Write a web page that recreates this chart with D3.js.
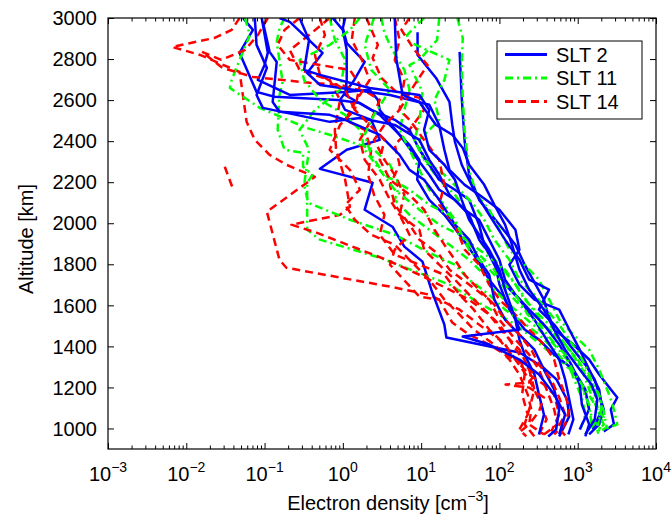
<!DOCTYPE html>
<html>
<head>
<meta charset="utf-8">
<script src="https://cdn.jsdelivr.net/npm/d3@7"></script>
<style>
  body { margin: 0; background: #fff; }
  text { font-family: "Liberation Sans", Arial, Helvetica, sans-serif; fill: #000; }
</style>
</head>
<body>
<svg id="chart" width="672" height="515"></svg>
<script>
// Electron density profiles, each point is [density (cm^-3), altitude (km)]
const slt2Profiles = [
  [[31,2835],[33,2611],[36,2397],[41,2236],[55,2114],[100,1993],[160,1895],[210,1798],[370,1628],[400,1579],[500,1482],[880,1409],[1400,1336],[1880,1263],[2650,1190],[3200,1151],[2650,1093],[2900,1020],[2150,985]],
  [[9,2930],[9,2820],[15.5,2708],[23,2591],[25,2479],[27,2397],[33,2285],[47,2163],[74,2041],[118,1920],[180,1822],[240,1725],[430,1676],[370,1628],[320,1579],[500,1506],[780,1409],[1250,1311],[1650,1238],[1880,1165],[2150,1093],[1880,1020],[1400,971]],
  [[1.2,3050],[1.07,3000],[1.0,2951],[1.12,2878],[1.9,2786],[1.4,2698],[0.92,2601],[1.07,2552],[2.3,2504],[2.96,2406],[1.12,2358],[0.51,2265],[2.4,2197],[1.9,2066],[4.3,1983],[6.1,1886],[10.4,1813],[13.5,1676],[19.8,1506],[21,1443],[180,1370],[350,1302],[535,1239],[730,1141],[780,1059],[580,961]],
  [[0.053,3000],[0.071,2942],[0.048,2830],[0.079,2640],[0.134,2616],[0.86,2601],[1.65,2586],[2.96,2528],[4.6,2455],[7.1,2382],[9.5,2309],[8.9,2212],[12.7,2114],[19.8,2041],[31,1944],[47,1847],[74,1725],[118,1628],[160,1530],[180,1433],[210,1360],[280,1263],[320,1165],[370,1068],[320,971]],
  [[0.092,3000],[0.11,2830],[0.1,2771],[0.082,2698],[0.21,2625],[1.07,2640],[2.2,2650],[2.8,2601],[2.96,2552],[5.3,2431],[8.2,2333],[12.7,2236],[17,2163],[27,2114],[41,2041],[55,1920],[86,1822],[100,1701],[134,1579],[210,1482],[320,1433],[500,1360],[880,1287],[1250,1190],[1400,1093],[1060,995]],
  [[0.155,3000],[0.21,2981],[0.55,2830],[0.35,2732],[0.51,2674],[4.0,2625],[7.1,2601],[12.7,2577],[17,2479],[19.8,2358],[23,2260],[36,2187],[55,2139],[100,2066],[160,1968],[180,1871],[134,1798],[180,1701],[280,1628],[580,1579],[780,1482],[1060,1384],[1400,1287],[1880,1190],[2050,1093],[1560,995]],
  [[0.74,3000],[1.0,2942],[1.12,2844],[1.12,2698],[1.07,2625],[2.3,2552],[4.6,2504],[7.1,2455],[9.5,2358],[12.7,2285],[17,2212],[27,2163],[41,2114],[55,1993],[64,1895],[86,1798],[118,1701],[180,1628],[280,1530],[400,1433],[580,1336],[690,1239],[780,1141],[880,1044],[760,971]],
  [[0.075,3000],[0.079,2869],[0.107,2757],[0.079,2625],[0.095,2562],[0.68,2494],[1.65,2513],[4.6,2479],[9.5,2406],[12.7,2309],[17,2236],[23,2139],[36,2066],[55,2017],[74,1920],[100,1822],[118,1725],[160,1652],[240,1579],[370,1506],[580,1409],[830,1311],[1060,1214],[1130,1117],[1400,1020],[1250,961]],
  [[0.095,2981],[0.116,2835],[0.143,2786],[0.127,2591],[0.155,2543],[0.68,2528],[1.07,2504],[2.96,2431],[5.3,2333],[7.1,2260],[10.9,2212],[17,2114],[27,1993],[41,1920],[55,1822],[74,1749],[86,1628],[118,1530],[180,1457],[280,1384],[370,1287],[500,1190],[580,1093],[530,995],[420,961]],
  [[4.6,3000],[4.8,2805],[5.8,2625],[9.5,2591],[15.5,2479],[25,2431],[34,2367],[41,2285],[64,2187],[86,2090],[118,1993],[145,1895],[180,1774],[240,1676],[370,1579],[500,1482],[690,1384],[1060,1287],[1500,1214],[1780,1141],[1650,1044],[1250,971]],
  [[0.28,3000],[0.37,2893],[0.32,2747],[0.51,2723],[2.2,2659],[9.5,2625],[12.7,2552],[10.9,2455],[12.7,2358],[19.8,2285],[27,2212],[33,2114],[41,2017],[55,1944],[74,1871],[100,1774],[118,1676],[145,1579],[180,1482],[34,1448],[74,1409],[180,1336],[320,1263],[500,1165],[690,1068],[580,971]]
];

const slt11Profiles = [
  [[29,3000],[34,2903],[33,2771],[34,2611],[36,2445],[38,2367],[41,2260],[51,2139],[74,2066],[100,1968],[134,1871],[210,1798],[320,1725],[433,1628],[580,1530],[880,1457],[1400,1384],[1880,1287],[2520,1165],[2900,1093],[3200,1020],[2150,995]],
  [[10.9,3000],[6.6,2917],[7.1,2883],[10.4,2854],[23,2796],[19.8,2698],[14.8,2601],[17,2504],[9.5,2406],[10.9,2309],[17,2212],[27,2139],[41,2041],[55,1920],[74,1847],[118,1774],[180,1676],[240,1603],[370,1506],[580,1433],[880,1360],[1250,1263],[1650,1165],[1880,1068],[1780,985]],
  [[0.18,3000],[0.155,2951],[0.143,2883],[0.17,2689],[0.155,2625],[0.147,2455],[0.18,2358],[0.31,2343],[0.31,2275],[0.41,2236],[0.35,2197],[0.35,1968],[0.51,1920],[2.96,1832],[23,1701],[47,1628],[86,1569],[160,1506],[280,1433],[433,1374],[690,1311],[1060,1239],[1250,1165],[1400,1093],[1650,1020],[1250,981]],
  [[0.056,3000],[0.065,2917],[0.048,2796],[0.038,2698],[0.036,2659],[0.087,2562],[0.34,2465],[0.68,2431],[2.5,2358],[4.0,2285],[5.3,2187],[4.6,2114],[7.1,2041],[12.7,1968],[23,1895],[41,1822],[64,1749],[86,1676],[134,1603],[210,1540],[320,1482],[500,1409],[730,1336],[880,1248],[1130,1151],[1250,1068],[1060,985]],
  [[0.68,3000],[0.79,2893],[1.07,2796],[0.92,2650],[0.44,2552],[0.28,2455],[0.37,2358],[0.32,2187],[0.36,2100],[1.23,2017],[4.6,1944],[12.7,1856],[27,1798],[41,1725],[74,1652],[118,1579],[180,1530],[320,1457],[500,1384],[730,1311],[1060,1214],[1400,1117],[1500,1020],[1250,971]],
  [[3.1,3000],[3.4,2927],[4.3,2844],[6.1,2747],[7.1,2650],[6.1,2552],[5.3,2455],[7.1,2358],[9.5,2260],[12.7,2163],[19.8,2090],[27,2017],[36,1920],[55,1847],[86,1774],[118,1676],[180,1603],[280,1530],[433,1482],[690,1409],[1000,1336],[1400,1248],[1880,1165],[2150,1083],[2350,1005],[1650,971]],
  [[17,3000],[16,2893],[9.5,2796],[7.1,2771],[10.4,2640],[9.5,2494],[8.2,2406],[10.9,2309],[19.8,2236],[31,2163],[47,2090],[64,2017],[86,1920],[134,1822],[180,1725],[280,1652],[400,1579],[580,1506],[780,1433],[1060,1360],[1320,1287],[1650,1190],[2050,1117],[1880,1044],[1400,995]],
  [[1.65,3000],[1.23,2942],[0.68,2869],[0.28,2796],[0.32,2698],[0.51,2601],[1.07,2528],[1.65,2455],[1.9,2358],[2.96,2260],[4.6,2163],[9.5,2066],[17,1993],[31,1944],[55,1871],[100,1798],[160,1701],[210,1628],[320,1555],[500,1482],[780,1384],[1130,1287],[1400,1190],[1780,1093],[2150,1020],[1780,981]],
  [[2.5,3000],[1.9,2869],[2.3,2747],[4.0,2650],[2.5,2528],[1.9,2431],[2.3,2333],[3.4,2236],[7.1,2163],[12.7,2090],[23,2041],[31,1968],[41,1871],[64,1798],[100,1725],[160,1652],[230,1555],[320,1506],[460,1433],[690,1360],[880,1277],[1250,1190],[1650,1117],[2150,1054],[1880,995]]
];

const slt14Profiles = [
  [[0.048,3000],[0.038,2942],[0.023,2903],[0.0066,2859],[0.015,2820],[0.048,2737],[0.059,2494],[0.075,2406],[0.116,2333],[0.19,2285],[0.44,2226],[0.107,2056],[0.155,1822],[0.19,1783],[4.0,1691],[12.7,1652],[31,1579],[55,1506],[100,1433],[160,1336],[240,1239],[320,1141],[400,1044],[320,971]],
  [[0.031,2275],[0.039,2173]],
  [[0.68,3000],[0.37,2917],[0.21,2844],[0.28,2747],[0.68,2698],[0.92,2601],[0.79,2455],[0.82,2358],[1.07,2212],[1.23,2080],[0.92,2041],[0.22,1993],[0.46,1954],[3.6,1822],[9.5,1749],[23,1676],[41,1628],[74,1555],[118,1457],[180,1384],[240,1287],[280,1190],[240,1093],[210,1020],[280,961]],
  [[2.0,3000],[2.8,2869],[2.4,2805],[3.1,2708],[4.8,2640],[9.5,2611],[10.9,2552],[7.1,2455],[4.6,2382],[5.3,2285],[4.0,2187],[4.6,2090],[7.1,1993],[9.5,1920],[17,1847],[23,1774],[41,1701],[74,1628],[100,1530],[160,1433],[240,1360],[320,1287],[400,1190],[500,1093],[550,1020],[370,971]],
  [[0.11,3000],[0.082,2917],[0.056,2844],[0.028,2796],[0.0158,2835],[0.029,2757],[0.071,2713],[0.38,2684],[0.92,2674],[2.0,2640],[2.96,2601],[2.3,2504],[1.65,2406],[1.9,2309],[2.96,2212],[4.0,2114],[5.3,2041],[9.5,1968],[10.9,1871],[17,1798],[27,1725],[41,1652],[64,1579],[100,1506],[134,1433],[180,1360],[210,1263],[195,1165],[230,1068],[180,995],[220,961]],
  [[1.42,3000],[1.3,2893],[1.75,2796],[2.2,2698],[1.5,2601],[1.07,2504],[1.9,2455],[2.3,2358],[2.1,2236],[2.5,2139],[3.4,2041],[2.96,1944],[4.6,1847],[9.5,1798],[19.8,1749],[31,1652],[47,1579],[74,1482],[118,1409],[160,1336],[240,1263],[370,1214],[500,1165],[580,1068],[460,985]],
  [[4.6,3000],[5.3,2893],[4.6,2796],[6.1,2698],[5.3,2552],[3.4,2479],[2.5,2406],[3.4,2309],[4.6,2236],[6.1,2139],[5.3,2041],[7.1,1944],[4.6,1871],[4.0,1798],[9.5,1642],[17,1628],[25,1516],[41,1457],[74,1409],[118,1360],[210,1311],[280,1263],[240,1224],[120,1214],[240,1199],[370,1151],[320,1083],[240,1020],[370,971]],
  [[7.1,3000],[5.6,2942],[8.2,2844],[12.1,2771],[8.2,2674],[5.3,2552],[7.1,2504],[10.9,2406],[17,2309],[19.8,2187],[17,2090],[27,1993],[36,1871],[55,1798],[74,1701],[100,1628],[160,1555],[240,1482],[370,1409],[500,1336],[580,1239],[690,1165],[780,1093],[690,1020],[500,971]],
  [[0.28,3000],[0.18,2942],[0.147,2869],[0.21,2796],[0.51,2771],[1.23,2747],[1.65,2674],[1.42,2552],[2.2,2479],[3.4,2406],[2.96,2309],[4.0,2212],[7.1,2139],[10.9,2066],[14.8,1968],[19.8,1895],[27,1822],[36,1749],[55,1676],[86,1603],[118,1530],[180,1457],[255,1384],[320,1311],[460,1239],[580,1151],[690,1068],[560,1005],[690,966]],
  [[0.51,3000],[0.59,2917],[0.44,2820],[0.51,2723],[1.07,2650],[1.42,2552],[0.92,2479],[0.68,2358],[1.23,2260],[1.65,2163],[1.07,2090],[1.42,2017],[2.3,1944],[4.6,1895],[7.1,1822],[12.7,1725],[19.8,1628],[31,1555],[47,1482],[86,1409],[134,1336],[180,1263],[230,1165],[255,1093],[240,1020],[180,981]]
];

const seriesNames = ["SLT 2", "SLT 11", "SLT 14"];
const xTickExponents = [-3, -2, -1, 0, 1, 2, 3, 4];
const yTickValues = [1000, 1200, 1400, 1600, 1800, 2000, 2200, 2400, 2600, 2800, 3000];
const xDomain = [1e-3, 1e4];
const yDomain = [900, 3000];

const series = [
  { name: seriesNames[0], profiles: slt2Profiles, color: "#0000ff", dash: null },
  { name: seriesNames[1], profiles: slt11Profiles, color: "#00ff00", dash: "8,4,2,4" },
  { name: seriesNames[2], profiles: slt14Profiles, color: "#ff0000", dash: "8,5" }
];

const svg = d3.select("#chart");
const plotLeft = 108, plotRight = 656, plotTop = 18, plotBottom = 449;
const fontSize = 20, supSize = 14;

const x = d3.scaleLog().domain(xDomain).range([plotLeft, plotRight]);
const y = d3.scaleLinear().domain(yDomain).range([plotBottom, plotTop]);

svg.append("defs").append("clipPath").attr("id", "plotClip")
  .append("rect").attr("x", plotLeft).attr("y", plotTop)
  .attr("width", plotRight - plotLeft).attr("height", plotBottom - plotTop);

// Profiles, interleaved so no series sits entirely on top
const line = d3.line().x(d => x(d[0])).y(d => y(d[1]));
const plot = svg.append("g").attr("clip-path", "url(#plotClip)");
const maxLen = d3.max(series, s => s.profiles.length);
for (let i = 0; i < maxLen; i++) {
  series.forEach(s => {
    const p = s.profiles[i];
    if (!p) return;
    plot.append("path")
      .datum(p)
      .attr("d", line)
      .attr("fill", "none")
      .attr("stroke", s.color)
      .attr("stroke-width", 2.5)
      .attr("stroke-linejoin", "round")
      .attr("stroke-dasharray", s.dash);
  });
}

// Axes with inward ticks on all four sides
const majorX = xTickExponents.map(e => Math.pow(10, e));
const minorX = [];
for (let e = -3; e < 4; e++) for (let m = 2; m <= 9; m++) minorX.push(m * Math.pow(10, e));

function styleAxis(g) {
  g.select(".domain").remove();
  g.selectAll(".tick line").attr("stroke", "#000").attr("stroke-width", 1);
  g.selectAll(".tick text").remove();
}

svg.append("g").attr("transform", `translate(0,${plotBottom})`)
  .call(d3.axisBottom(x).tickValues(majorX).tickSize(-6)).call(styleAxis);
svg.append("g").attr("transform", `translate(0,${plotBottom})`)
  .call(d3.axisBottom(x).tickValues(minorX).tickSize(-3.5)).call(styleAxis);
svg.append("g").attr("transform", `translate(0,${plotTop})`)
  .call(d3.axisTop(x).tickValues(majorX).tickSize(-6)).call(styleAxis);
svg.append("g").attr("transform", `translate(0,${plotTop})`)
  .call(d3.axisTop(x).tickValues(minorX).tickSize(-3.5)).call(styleAxis);
svg.append("g").attr("transform", `translate(${plotLeft},0)`)
  .call(d3.axisLeft(y).tickValues(yTickValues).tickSize(-6)).call(styleAxis);
svg.append("g").attr("transform", `translate(${plotRight},0)`)
  .call(d3.axisRight(y).tickValues(yTickValues).tickSize(-6)).call(styleAxis);

svg.append("rect").attr("x", plotLeft).attr("y", plotTop)
  .attr("width", plotRight - plotLeft).attr("height", plotBottom - plotTop)
  .attr("fill", "none").attr("stroke", "#000").attr("stroke-width", 1.2);

// Tick labels
svg.append("g").selectAll("text").data(yTickValues).join("text")
  .attr("x", plotLeft - 11).attr("y", d => y(d)).attr("dy", "0.36em")
  .attr("text-anchor", "end").attr("font-size", fontSize).text(d => d);

const xl = svg.append("g").selectAll("text").data(xTickExponents).join("text")
  .attr("x", d => x(Math.pow(10, d))).attr("y", 481)
  .attr("text-anchor", "middle").attr("font-size", fontSize);
xl.append("tspan").text("10");
xl.append("tspan").attr("dy", -9).attr("font-size", supSize)
  .text(d => d < 0 ? "\u2212" + Math.abs(d) : String(d));

// Axis titles
const xt = svg.append("text").attr("x", 388).attr("y", 510)
  .attr("text-anchor", "middle").attr("font-size", fontSize);
xt.append("tspan").text("Electron density [cm");
xt.append("tspan").attr("dy", -9).attr("font-size", supSize).text("\u22123");
xt.append("tspan").attr("dy", 9).text("]");

svg.append("text").attr("transform", "translate(33,239) rotate(-90)")
  .attr("text-anchor", "middle").attr("font-size", fontSize).text("Altitude [km]");

// Legend
const lg = svg.append("g");
lg.append("rect").attr("x", 497).attr("y", 41).attr("width", 145).attr("height", 78)
  .attr("fill", "#fff").attr("stroke", "#000").attr("stroke-width", 1);
series.forEach((s, i) => {
  const ly = 54.5 + i * 23.5;
  lg.append("line").attr("x1", 505).attr("x2", 547).attr("y1", ly).attr("y2", ly)
    .attr("stroke", s.color).attr("stroke-width", 2.8).attr("stroke-dasharray", s.dash);
  lg.append("text").attr("x", 556).attr("y", ly).attr("dy", "0.36em")
    .attr("font-size", fontSize).text(s.name);
});
</script>
</body>
</html>
